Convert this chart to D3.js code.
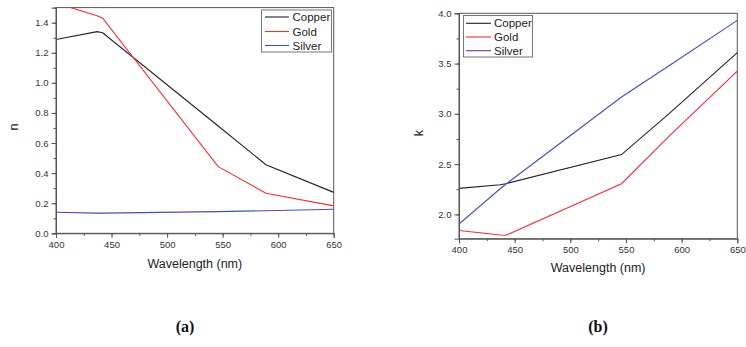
<!DOCTYPE html>
<html><head><meta charset="utf-8">
<script src="https://cdn.jsdelivr.net/npm/d3@7"></script>
<style>body{margin:0;background:#fff}svg{display:block}</style>
</head><body>
<svg id="c" width="746" height="347"></svg>
<script>
const wavelengths = [400, 437, 442, 546, 589, 650];
const seriesNames = ["Copper", "Gold", "Silver"];
const nCopper = [1.288, 1.340, 1.333, 0.713, 0.456, 0.272];
const nGold   = [1.530, 1.446, 1.430, 0.443, 0.266, 0.182];
const nSilver = [0.140, 0.134, 0.134, 0.144, 0.150, 0.160];
const kCopper = [2.259, 2.295, 2.305, 2.595, 3.005, 3.609];
const kGold   = [1.840, 1.795, 1.792, 2.305, 2.780, 3.425];
const kSilver = [1.904, 2.255, 2.300, 3.168, 3.480, 3.930];
const xTicks = [400, 450, 500, 550, 600, 650];
const nTicks = [0.0, 0.2, 0.4, 0.6, 0.8, 1.0, 1.2, 1.4];
const kTicks = [2.0, 2.5, 3.0, 3.5, 4.0];
const colors = ["#222222", "#ff2a2a", "#3f4fc0"];

const svg = d3.select("#c");
const font = "'Liberation Sans', Arial, sans-serif";

function panel(cfg) {
  const g = svg.append("g");
  const x = d3.scaleLinear().domain([400, 650]).range([cfg.x0, cfg.x1]);
  const y = d3.scaleLinear().domain(cfg.ydom).range([cfg.y0, cfg.y1]);
  const clipId = "clip" + cfg.id;
  svg.append("clipPath").attr("id", clipId).append("rect")
    .attr("x", cfg.x0).attr("y", cfg.y1).attr("width", cfg.x1 - cfg.x0).attr("height", cfg.y0 - cfg.y1);
  // frame
  g.append("rect").attr("x", cfg.x0).attr("y", cfg.y1).attr("width", cfg.x1 - cfg.x0).attr("height", cfg.y0 - cfg.y1)
    .attr("fill", "none").attr("stroke", "#555").attr("stroke-width", 1);
  // lines
  const line = d3.line().x((d, i) => x(wavelengths[i])).y(d => y(d));
  cfg.series.forEach((s, i) => {
    g.append("path").attr("d", line(s)).attr("fill", "none").attr("stroke", colors[i])
      .attr("stroke-width", 1.1).attr("clip-path", `url(#${clipId})`);
  });
  // x axis
  const xMinor = d3.range(400, 651, 25);
  const xa = g.append("g").attr("transform", `translate(0,${cfg.y0})`)
    .call(d3.axisBottom(x).tickValues(xMinor).tickSize(2.5).tickFormat(""));
  xa.select(".domain").remove();
  const xb = g.append("g").attr("transform", `translate(0,${cfg.y0})`)
    .call(d3.axisBottom(x).tickValues(xTicks).tickSize(4.5).tickPadding(3).tickFormat(d3.format("d")));
  xb.select(".domain").attr("stroke", "#555");
  [xa, xb].forEach(a => a.selectAll("line").attr("stroke", "#555"));
  xb.selectAll("text").attr("font-family", font).attr("font-size", 9.5).attr("fill", "#333");
  // y axis
  const ya = g.append("g").attr("transform", `translate(${cfg.x0},0)`)
    .call(d3.axisLeft(y).tickValues(cfg.yMinor).tickSize(2.5).tickFormat(""));
  ya.select(".domain").remove();
  const yb = g.append("g").attr("transform", `translate(${cfg.x0},0)`)
    .call(d3.axisLeft(y).tickValues(cfg.yTicks).tickSize(4.5).tickPadding(3).tickFormat(d3.format(".1f")));
  yb.select(".domain").attr("stroke", "#555");
  [ya, yb].forEach(a => a.selectAll("line").attr("stroke", "#555"));
  yb.selectAll("text").attr("font-family", font).attr("font-size", 9.5).attr("fill", "#333");
  // titles
  g.append("text").attr("x", (cfg.x0 + cfg.x1) / 2).attr("y", cfg.titleY)
    .attr("text-anchor", "middle").attr("font-family", font).attr("font-size", 12.5).attr("fill", "#222")
    .text("Wavelength (nm)");
  g.append("text").attr("transform", `translate(${cfg.ylabX},${cfg.ylabY}) rotate(-90)`)
    .attr("text-anchor", "middle").attr("font-family", font).attr("font-size", 12.5).attr("fill", "#222")
    .text(cfg.ylabel);
  // legend
  const L = cfg.legend;
  g.append("rect").attr("x", L.x).attr("y", L.y).attr("width", L.w).attr("height", L.h)
    .attr("fill", "#fff").attr("stroke", "#777").attr("stroke-width", 1);
  seriesNames.forEach((nm, i) => {
    const yy = L.rowY[i];
    g.append("line").attr("x1", L.lx1).attr("x2", L.lx2).attr("y1", yy).attr("y2", yy)
      .attr("stroke", colors[i]).attr("stroke-width", 1.1);
    g.append("text").attr("x", L.tx).attr("y", yy + 4).attr("font-family", font).attr("font-size", 11.5)
      .attr("fill", "#222").text(nm);
  });
  // caption
  g.append("text").attr("x", cfg.capX).attr("y", 332).attr("text-anchor", "middle")
    .attr("font-family", "'Liberation Serif', 'DejaVu Serif', serif").attr("font-weight", "bold")
    .attr("font-size", 16).attr("fill", "#111").text(cfg.caption);
}

panel({
  id: "a", x0: 56, x1: 333.7, y0: 233.3, y1: 7.6, ydom: [0, 1.5],
  series: [nCopper, nGold, nSilver], yTicks: nTicks, yMinor: d3.range(0, 1.51, 0.1),
  titleY: 268, ylabX: 18, ylabY: 127, ylabel: "n",
  legend: {x: 261.5, y: 10, w: 70, h: 42, lx1: 265, lx2: 289, tx: 292.5, rowY: [17, 31.5, 45.5]},
  capX: 185, caption: "(a)"
});
panel({
  id: "b", x0: 459, x1: 737.3, y0: 238.7, y1: 13.3, ydom: [1.758, 4.0],
  series: [kCopper, kGold, kSilver], yTicks: kTicks, yMinor: d3.range(2.0, 4.01, 0.25),
  titleY: 272, ylabX: 423, ylabY: 133, ylabel: "k",
  legend: {x: 463.5, y: 15.5, w: 69, h: 41.5, lx1: 466, lx2: 491, tx: 494, rowY: [23.3, 37, 50.7]},
  capX: 598, caption: "(b)"
});
</script>
</body></html>
